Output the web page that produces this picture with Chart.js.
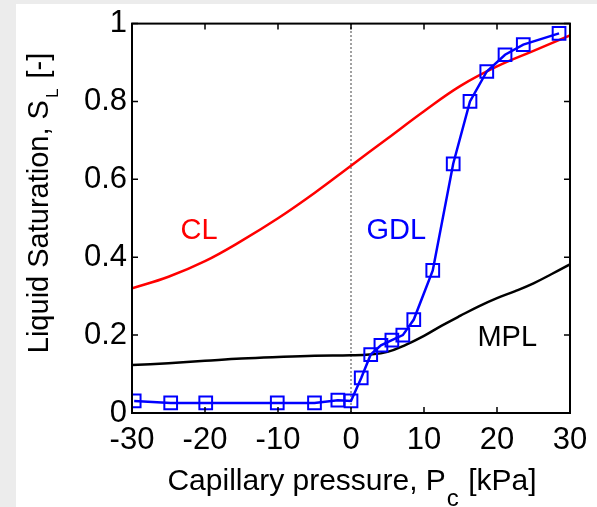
<!DOCTYPE html>
<html>
<head>
<meta charset="utf-8">
<script src="https://cdn.jsdelivr.net/npm/chart.js@4"></script>
<style>
    html, body { margin: 0; padding: 0; }
    body { width: 597px; height: 507px; background: #ececec; position: relative; overflow: hidden; }
    #sheet { position: absolute; left: 16px; top: 4px; right: 0; bottom: 0; background: #fff; }
    #box { position: absolute; left: 0; top: 0; width: 597px; height: 507px; }
</style>
</head>
<body>
<div id="sheet"></div>
<div id="box"><canvas id="satChart"></canvas></div>
<script>
// axis ticks
const pressureTicks = [-30, -20, -10, 0, 10, 20, 30];
const saturationTicks = [0, 0.2, 0.4, 0.6, 0.8, 1];

// CL curve
const clPressure = [-30, -25, -20, -15, -10, -5, 0, 5, 10, 15, 20, 25, 30];
const clSaturation = [0.32, 0.35, 0.39, 0.442, 0.50, 0.565, 0.635, 0.705, 0.775, 0.84, 0.89, 0.93, 0.97];

// MPL curve
const mplPressure = [-30, -25, -20, -15, -10, -5, 0, 2.5, 5, 7.5, 10, 12.5, 15, 17.5, 20, 22.5, 25, 27.5, 30];
const mplSaturation = [0.123, 0.128, 0.134, 0.140, 0.144, 0.147, 0.148, 0.150, 0.157, 0.175, 0.198, 0.225, 0.25, 0.274, 0.295, 0.313, 0.333, 0.357, 0.382];

// GDL measured points
const gdlPressure = [-29.7, -24.7, -19.9, -10.1, -5.0, -1.8, 0, 1.4, 2.7, 4.1, 5.6, 7.1, 8.6, 11.2, 14.0, 16.3, 18.6, 21.1, 23.6, 28.5];
const gdlSaturation = [0.031, 0.026, 0.026, 0.026, 0.026, 0.033, 0.031, 0.09, 0.15, 0.174, 0.187, 0.20, 0.24, 0.366, 0.64, 0.80, 0.877, 0.92, 0.946, 0.975];

// layer names
const layerNames = ["CL", "GDL", "MPL"];

const FONT = "'Liberation Sans', Arial, Helvetica, sans-serif";

const toPoints = (xs, ys) => xs.map((x, i) => ({ x: x, y: ys[i] }));

// where the layer names sit (in data units) and their colours
const nameSpots = [
    { x: -20.8, y: 0.468, color: "#ff0000" },
    { x: 6.2, y: 0.468, color: "#0000ff" },
    { x: 21.4, y: 0.193, color: "#000000" }
];

const framePlugin = {
    id: "frame",
    afterDatasetsDraw(chart) {
        const ctx = chart.ctx;
        const { left, right, top, bottom } = chart.chartArea;
        const xs = chart.scales.x;
        const ys = chart.scales.y;
        const tick = 6;

        ctx.save();
        ctx.strokeStyle = "#000";
        ctx.lineWidth = 2;
        ctx.strokeRect(left, top, right - left, bottom - top);

        ctx.lineWidth = 1.5;
        ctx.beginPath();
        pressureTicks.forEach(v => {
            const px = xs.getPixelForValue(v);
            ctx.moveTo(px, bottom); ctx.lineTo(px, bottom - tick);
            ctx.moveTo(px, top); ctx.lineTo(px, top + tick);
        });
        saturationTicks.forEach(v => {
            const py = ys.getPixelForValue(v);
            ctx.moveTo(left, py); ctx.lineTo(left + tick, py);
            ctx.moveTo(right, py); ctx.lineTo(right - tick, py);
        });
        ctx.stroke();

        // layer names
        ctx.font = "29px " + FONT;
        ctx.textAlign = "center";
        ctx.textBaseline = "middle";
        layerNames.forEach((name, i) => {
            const s = nameSpots[i];
            ctx.fillStyle = s.color;
            ctx.fillText(name, xs.getPixelForValue(s.x), ys.getPixelForValue(s.y));
        });

        // x title with subscript
        ctx.fillStyle = "#000";
        ctx.textBaseline = "alphabetic";
        ctx.textAlign = "left";
        const xa = "Capillary pressure, P";
        const xb = "c";
        const xc = " [kPa]";
        ctx.font = "30px " + FONT;
        const wa = ctx.measureText(xa).width;
        const wc = ctx.measureText(xc).width;
        ctx.font = "24px " + FONT;
        const wb = ctx.measureText(xb).width;
        let sx = 351 - (wa + wb + wc) / 2;
        ctx.font = "30px " + FONT;
        ctx.fillText(xa, sx, 490);
        ctx.font = "24px " + FONT;
        ctx.fillText(xb, sx + wa + 1, 506);
        ctx.font = "30px " + FONT;
        ctx.fillText(xc, sx + wa + wb + 2, 490);

        // y title with subscript
        ctx.translate(48, 205);
        ctx.rotate(-Math.PI / 2);
        const ya = "Liquid Saturation, S";
        const yb = "L";
        const yc = " [-]";
        ctx.font = "29px " + FONT;
        const va = ctx.measureText(ya).width;
        const vc = ctx.measureText(yc).width;
        ctx.font = "17px " + FONT;
        const vb = ctx.measureText(yb).width;
        let sy = -(va + vb + vc) / 2;
        ctx.font = "29px " + FONT;
        ctx.fillText(ya, sy, 0);
        ctx.font = "17px " + FONT;
        ctx.fillText(yb, sy + va + 2, 10);
        ctx.font = "29px " + FONT;
        ctx.fillText(yc, sy + va + vb + 4, 0);
        ctx.restore();
    }
};

new Chart(document.getElementById("satChart"), {
    type: "scatter",
    data: {
        datasets: [
            {
                label: "GDL",
                data: toPoints(gdlPressure, gdlSaturation),
                showLine: true,
                borderColor: "#0000ff",
                borderWidth: 2.5,
                pointStyle: "rect",
                pointRadius: 9,
                pointBorderWidth: 2,
                pointBorderColor: "#0000ff",
                pointBackgroundColor: "rgba(0,0,0,0)",
                order: 1
            },
            {
                label: "CL",
                data: toPoints(clPressure, clSaturation),
                showLine: true,
                borderColor: "#ff0000",
                borderWidth: 2.5,
                pointRadius: 0,
                tension: 0.4,
                order: 2
            },
            {
                label: "MPL",
                data: toPoints(mplPressure, mplSaturation),
                showLine: true,
                borderColor: "#000000",
                borderWidth: 2.5,
                pointRadius: 0,
                tension: 0.4,
                order: 3
            },
            {
                label: "zero",
                data: [{ x: 0, y: 0 }, { x: 0, y: 1 }],
                showLine: true,
                borderColor: "#444",
                borderWidth: 1,
                borderDash: [2, 2],
                pointRadius: 0,
                order: 4
            }
        ]
    },
    options: {
        responsive: true,
        maintainAspectRatio: false,
        animation: false,
        layout: {
            padding: { top: 22, right: 27, left: 0, bottom: 0 }
        },
        plugins: {
            legend: { display: false },
            tooltip: { enabled: false }
        },
        scales: {
            x: {
                type: "linear",
                min: -30,
                max: 30,
                afterBuildTicks: s => { s.ticks = pressureTicks.map(v => ({ value: v })); },
                afterFit: s => { s.height = 94; },
                grid: { display: false, drawTicks: false },
                border: { display: false },
                ticks: {
                    color: "#000",
                    padding: 9,
                    maxRotation: 0,
                    font: { family: FONT, size: 31 }
                }
            },
            y: {
                type: "linear",
                min: 0,
                max: 1,
                afterBuildTicks: s => { s.ticks = saturationTicks.map(v => ({ value: v })); },
                afterFit: s => { s.width = 132; },
                grid: { display: false, drawTicks: false },
                border: { display: false },
                ticks: {
                    color: "#000",
                    padding: 5,
                    font: { family: FONT, size: 31 },
                    callback: v => String(Number(v.toFixed(1)))
                }
            }
        }
    },
    plugins: [framePlugin]
});
</script>
</body>
</html>
